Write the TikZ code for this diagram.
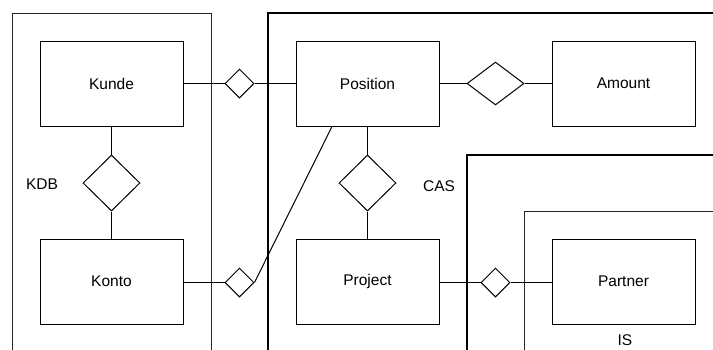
\documentclass[tikz,border=0pt]{standalone}
\usepackage{fontspec}
\setmainfont{Liberation Sans}
\usetikzlibrary{shapes.geometric}
\begin{document}
\begin{tikzpicture}[x=1pt,y=-1pt,
  every node/.style={font=\fontsize{15.5}{18}\selectfont},
  entity/.style={draw, line width=1pt, minimum width=143pt, minimum height=85pt, inner sep=0pt},
  relbig/.style={draw, diamond, line width=1pt, inner sep=0pt, minimum width=57pt, minimum height=56pt},
  relwide/.style={draw, diamond, line width=1pt, inner sep=0pt, minimum width=57pt, minimum height=43pt},
  relsmall/.style={draw, diamond, line width=1pt, inner sep=0pt, minimum width=29pt, minimum height=29pt},
  frame/.style={line width=1pt, draw=black!85},
  link/.style={line width=1pt}]
\useasboundingbox (0,0) rectangle (713,349);
\begin{scope}
\clip (0,0) rectangle (713,349);
% system boundaries
\draw[frame] (12,360) -- (12,13) -- (211,13) -- (211,360);
\draw[frame, line width=1.4pt, draw=black] (268,360) -- (268,13) -- (720,13);
\draw[frame, line width=1.2pt, draw=black] (467,360) -- (467,155) -- (720,155);
\draw[frame] (524,360) -- (524,211) -- (720,211);
\end{scope}
% entities
\node[entity] (kunde) at (111.5,83.5) {Kunde};
\node[entity] (konto) at (111.5,281.5) {Konto};
\node[entity] (pos) at (367.5,83.5) {Position};
\node[entity] (amount) at (623.5,83.5) {Amount};
\node[entity] (proj) at (367.5,281.5) {Project};
\node[entity] (partner) at (623.5,281.5) {Partner};
% relationships
\node[relbig] (r1) at (111.5,183) {};
\node[relbig] (r2) at (367.5,183) {};
\node[relwide] (r3) at (495.5,83.5) {};
\node[relsmall] (r4) at (239.5,83.5) {};
\node[relsmall] (r5) at (239.5,282.5) {};
\node[relsmall] (r6) at (495.5,282.5) {};
% connectors
\draw[link] (kunde.south) -- (r1.north);
\draw[link] (r1.south) -- (konto.north);
\draw[link] (pos.south) -- (r2.north);
\draw[link] (r2.south) -- (proj.north);
\draw[link] (pos.east) -- (r3.west);
\draw[link] (r3.east) -- (amount.west);
\draw[link] (kunde.east) -- (r4.west);
\draw[link] (r4.east) -- (pos.west);
\draw[link] (konto.east |- r5.west) -- (r5.west);
\draw[link] (r5.east) -- ([xshift=-35.5pt]pos.south);
\draw[link] (proj.east |- r6.west) -- (r6.west);
\draw[link] (r6.east) -- (partner.west |- r6.east);
% system labels
\node (kdb) at (42,184) {KDB};
\node (cas) at (439,186) {CAS};
\node[inner sep=1pt] (is) at (625,340) {IS};
\end{tikzpicture}
\end{document}
